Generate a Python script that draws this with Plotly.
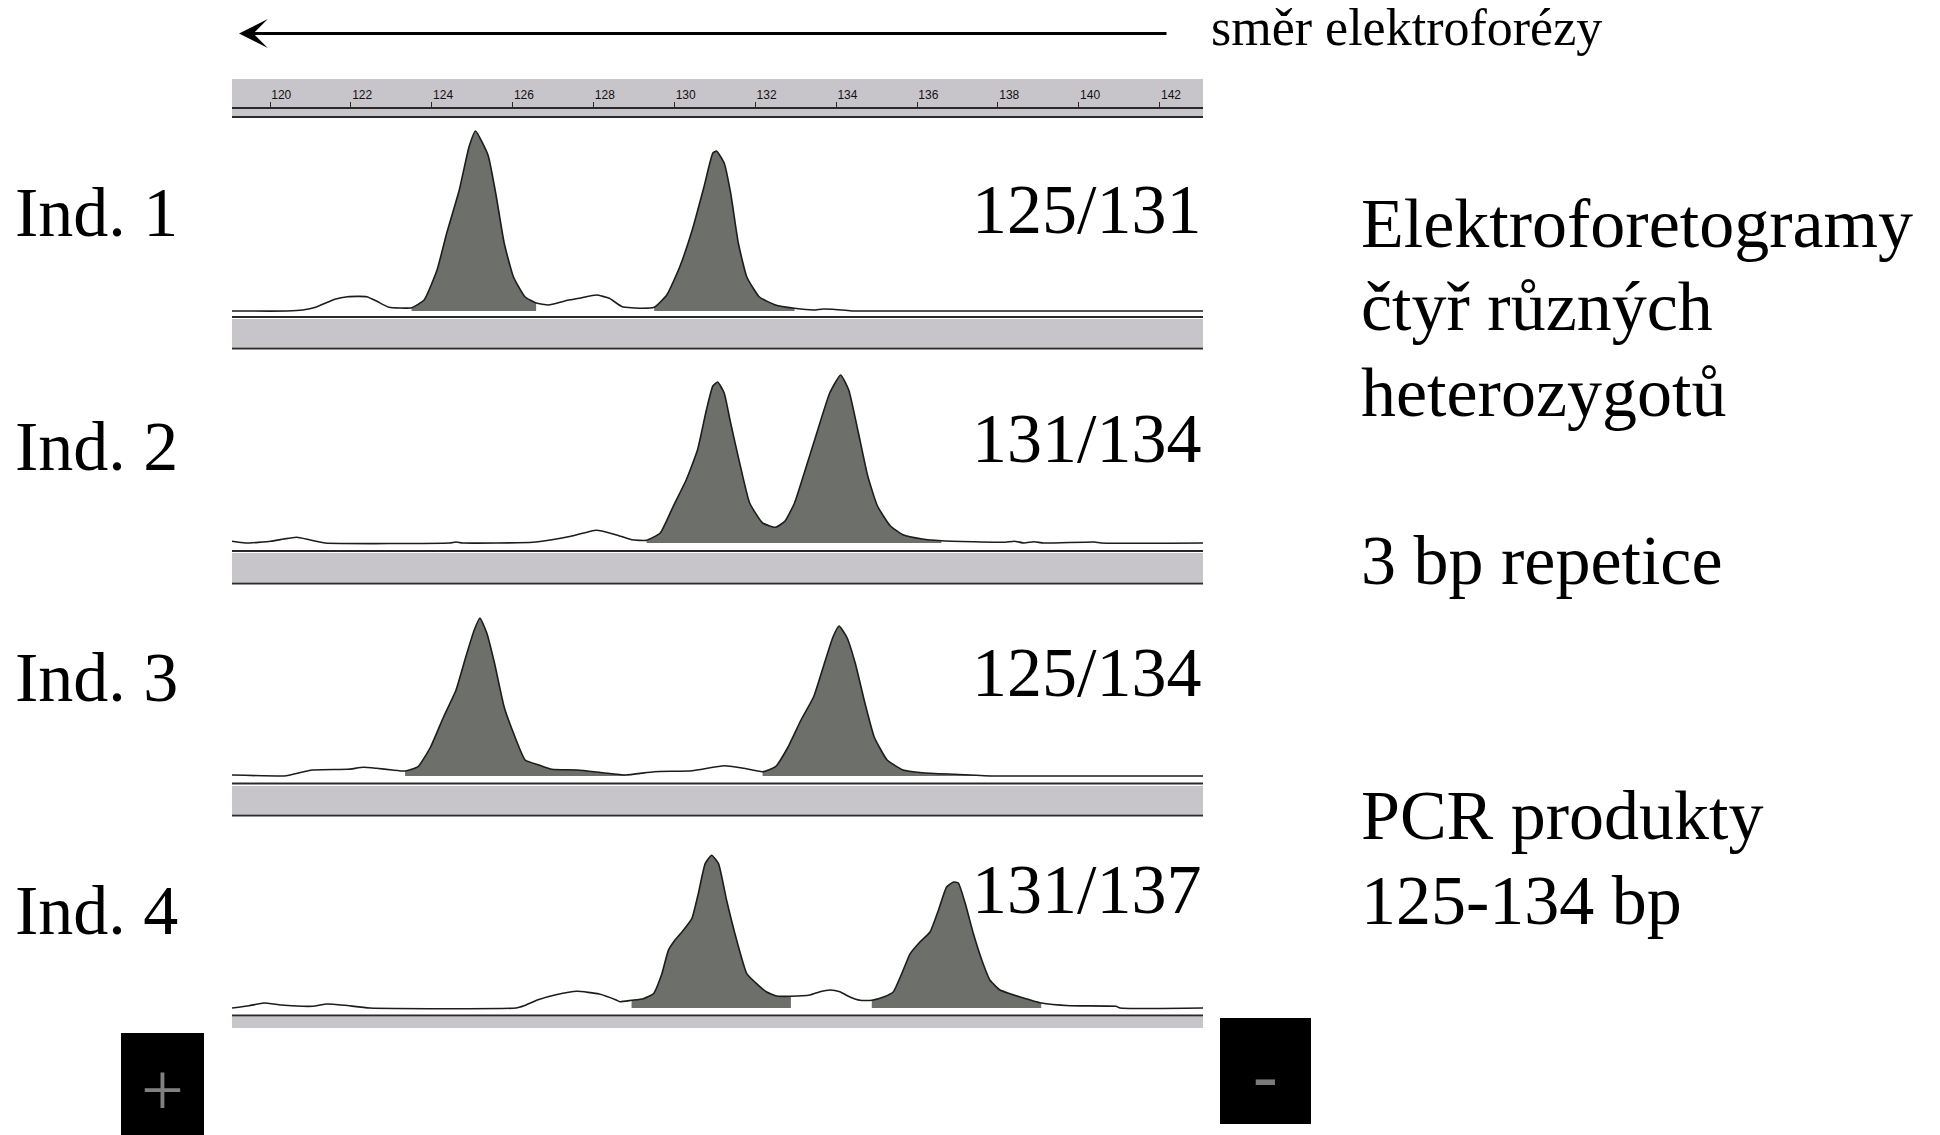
import plotly.graph_objects as go

W, H = 1940, 1135

# ---------------- data (size in bp, relative fluorescence) ----------------
ruler_ticks = [120, 122, 124, 126, 128, 130, 132, 134, 136, 138, 140, 142]

ind_labels = ["Ind. 1", "Ind. 2", "Ind. 3", "Ind. 4"]
allele_labels = ["125/131", "131/134", "125/134", "131/137"]

p1_bp = [119.06, 120.42, 120.81, 121.13, 121.60, 121.92, 122.39, 122.63, 122.94, 123.50,
         123.81, 124.13, 124.37, 124.68, 124.92, 125.08, 125.39, 125.58, 125.79, 126.02,
         126.31, 126.58, 126.89, 127.29, 127.68, 128.07, 128.39, 128.71, 129.18, 129.50,
         129.81, 130.13, 130.44, 130.73, 130.95, 131.04, 131.23, 131.39, 131.58, 131.79,
         132.10, 132.50, 132.97, 133.44, 133.68, 134.23, 134.39, 143.07]
p1_sig = [0, 0, 1, 3.7, 11.7, 14.3, 14.3, 10, 3.7, 3.3,
          11, 41, 78, 121, 164, 180, 156, 118, 68, 34,
          14, 8, 6, 10, 13, 16, 12.7, 4.3, 2.7, 3.7,
          16, 44, 81, 124, 158, 160, 148, 118, 68, 34,
          14, 6, 2.7, 1, 2, 0.7, 0, 0]
p1_fill = [(123.50, 126.58), (129.50, 132.97)]

p2_bp = [119.06, 119.39, 120.02, 120.34, 120.66, 120.97, 121.37, 124.44, 124.60, 124.76,
         126.50, 126.97, 127.44, 128.07, 128.55, 128.94, 129.31, 129.65, 129.97, 130.29,
         130.57, 130.79, 130.95, 131.07, 131.23, 131.39, 131.63, 131.86, 132.18, 132.50,
         132.73, 132.97, 133.21, 133.52, 133.84, 134.11, 134.31, 134.55, 134.78, 135.02,
         135.34, 135.65, 136.13, 136.60, 137.39, 138.18, 138.41, 138.65, 138.89, 139.13,
         140.39, 140.55, 143.07]
p2_sig = [1.7, 0, 1.7, 4, 5.7, 3.3, 0, 0, 1, 0,
          0.7, 3.3, 6.7, 12.7, 8.3, 3.3, 2.7, 10, 36.7, 63,
          93, 133, 157, 161, 150, 120, 77, 40, 20, 15.7,
          21.7, 40, 70, 110, 150, 168, 153, 110, 67, 37,
          17, 8.3, 4, 2.3, 1.3, 0.7, 1.7, 0, 1.3, 0,
          1, 0, 0]
p2_fill = [(129.31, 136.60)]

p3_bp = [119.06, 120.34, 120.50, 121.05, 121.92, 122.31, 122.63, 123.02, 123.34, 123.66,
         123.97, 124.29, 124.60, 124.84, 125.05, 125.19, 125.36, 125.55, 125.79, 126.02,
         126.31, 126.65, 126.97, 127.60, 128.23, 128.79, 129.50, 130.44, 131.23, 131.71,
         132.18, 132.50, 132.81, 133.13, 133.44, 133.68, 133.92, 134.07, 134.26, 134.47,
         134.71, 134.94, 135.26, 135.65, 136.13, 136.92, 137.86, 143.07]
p3_sig = [1, 0, 1, 6, 6.7, 8.7, 7.7, 6, 5, 9.3,
          29, 59, 86, 119, 146, 158, 143, 113, 69, 43,
          16, 11, 6.7, 6, 3.3, 1, 4.3, 5.3, 10.3, 7.7,
          4.3, 9.3, 29, 56, 79, 109, 139, 150, 139, 113,
          73, 39, 16, 6, 3.3, 1.7, 0, 0]
p3_fill = [(123.34, 128.79), (132.18, 137.86)]

p4_bp = [119.06, 119.48, 119.85, 120.27, 120.79, 121.06, 121.41, 121.85, 122.47, 126.08,
         126.28, 126.63, 127.07, 127.59, 128.14, 128.56, 128.65, 128.94, 129.23, 129.48,
         129.69, 129.85, 130.01, 130.22, 130.43, 130.59, 130.76, 130.92, 131.09, 131.29,
         131.54, 131.79, 132.03, 132.28, 132.53, 132.88, 133.35, 133.60, 133.85, 134.09,
         134.34, 134.59, 134.88, 135.17, 135.41, 135.62, 135.83, 136.07, 136.32, 136.53,
         136.73, 136.90, 137.02, 137.19, 137.39, 137.60, 137.80, 138.05, 138.30, 138.55,
         139.07, 139.78, 140.92, 141.02, 143.07]
p4_sig = [0, 2.3, 5, 3, 1.7, 1.7, 4, 2.7, 0, 0,
          2.3, 8.3, 13.3, 16.7, 14, 8, 6.3, 7.7, 9.3, 14.3,
          34.3, 57.7, 67.7, 77.7, 89.3, 114.3, 144.3, 152.7, 144.3, 107.7,
          67.7, 34.3, 24.3, 16, 12, 11.7, 13, 16.3, 18, 16.3,
          11, 7.7, 7.7, 11, 16, 34.3, 54.3, 66, 76, 98,
          121, 126, 125, 104.7, 74.7, 48, 28, 18, 14.3, 11,
          5, 2.3, 1.7, 0, 0]
p4_fill = [(128.94, 132.88), (134.88, 139.07)]

panels = [(p1_bp, p1_sig, p1_fill), (p2_bp, p2_sig, p2_fill),
          (p3_bp, p3_sig, p3_fill), (p4_bp, p4_sig, p4_fill)]

right_lines = ["Elektroforetogramy", "čtyř různých", "heterozygotů",
               "3 bp repetice", "PCR produkty", "125-134 bp"]
direction_label = "směr elektroforézy"

# ---------------- layout geometry (pixels) ----------------
X_LEFT, X_RIGHT = 232, 1203
BASELINES = [311, 543, 776, 1008]
PAD_BOTTOM, PAD_TOP = 5, 188
FONT_SERIF = "Liberation Serif"
TRACE_FILL = "#6d6f6b"
BAND = "#c8c5ca"
DARK = "#2a2a2a"
SMOOTH = 0.45


def px(x):
    return x / W


def py(y):
    return 1 - y / H


fig = go.Figure()
yaxes_names = ["y", "y2", "y3", "y4"]

for i, (bp, sig, fills) in enumerate(panels):
    ya = yaxes_names[i]
    for (a, b) in fills:
        sel = [(x, s) for x, s in zip(bp, sig) if a - 1e-9 <= x <= b + 1e-9]
        fig.add_trace(go.Scatter(
            x=[p[0] for p in sel], y=[p[1] for p in sel], xaxis="x", yaxis=ya,
            mode="lines", line=dict(width=0, color=TRACE_FILL, shape="spline", smoothing=SMOOTH),
            fill="tozeroy", fillcolor=TRACE_FILL, hoverinfo="skip", showlegend=False))
    fig.add_trace(go.Scatter(
        x=bp, y=sig, xaxis="x", yaxis=ya, mode="lines",
        line=dict(color="#1c1c1c", width=1.6, shape="spline", smoothing=SMOOTH),
        hoverinfo="skip", showlegend=False))

layout_axes = {}
layout_axes["xaxis"] = dict(
    domain=[px(X_LEFT), px(X_RIGHT)], range=[119.06, 143.07], anchor="free",
    position=py(108), side="top", showline=True, linecolor=DARK, linewidth=1.5,
    ticks="outside", ticklen=5, tickwidth=1, tickcolor=DARK,
    tickvals=ruler_ticks, ticktext=[str(t) for t in ruler_ticks],
    ticklabelposition="outside right", ticklabelstandoff=3,
    tickfont=dict(family="Liberation Sans", size=12, color="#111"),
    showgrid=False, zeroline=False, fixedrange=True)
for i, pb in enumerate(BASELINES):
    key = "yaxis" if i == 0 else f"yaxis{i+1}"
    layout_axes[key] = dict(
        domain=[py(pb + PAD_BOTTOM), py(pb - PAD_TOP)], range=[-PAD_BOTTOM, PAD_TOP],
        anchor="x", visible=False, fixedrange=True)

shapes = []


def rect(x0, y0, x1, y1, color):
    shapes.append(dict(type="rect", xref="paper", yref="paper", x0=px(x0), x1=px(x1),
                       y0=py(y0), y1=py(y1), fillcolor=color, line=dict(width=0), layer="below"))


def hline(y, color=DARK, width=2):
    shapes.append(dict(type="line", xref="paper", yref="paper", x0=px(X_LEFT), x1=px(X_RIGHT),
                       y0=py(y), y1=py(y), line=dict(color=color, width=width), layer="above"))


# ruler
rect(X_LEFT, 79, X_RIGHT, 117, BAND)
hline(117, DARK, 1.8)
# bands under each panel
bands = [(317, 319, 347, 348.5), (551, 553, 582, 583.5), (783.5, 786, 814, 815.5), (1015.5, 1017, 1028, None)]
for top_line, g0, g1, bot_line in bands:
    rect(X_LEFT, g0, X_RIGHT, g1, BAND)
    hline(top_line, DARK, 2)
    if bot_line is not None:
        hline(bot_line, DARK, 2)

# + / - electrode boxes
rect(121, 1033, 204, 1136, "#000000")
rect(1220, 1018, 1311, 1124, "#000000")

annotations = []


def text(s, x, baseline, size, xanchor="left", color="#000000"):
    annotations.append(dict(
        text=s, xref="paper", yref="paper", x=px(x), y=py(baseline - 0.3375 * size),
        xanchor=xanchor, yanchor="middle", showarrow=False,
        font=dict(family=FONT_SERIF, size=size, color=color)))


for lab, bl in zip(ind_labels, [236, 470, 701, 934]):
    text(lab, 13, bl, 70)
for lab, bl in zip(allele_labels, [233, 462, 696, 913]):
    text(lab, 1203, bl, 70, xanchor="right")
for lab, bl in zip(right_lines, [247, 330, 416, 584, 839, 924]):
    text(lab, 1359, bl, 70)
text(direction_label, 1209, 45, 52)
text("+", 162, 1115, 76, xanchor="center", color="#808080")
text("-", 1265, 1100, 74, xanchor="center", color="#7a7a7a")

# direction arrow
annotations.append(dict(
    text="", xref="paper", yref="paper", x=px(239), y=py(33.5),
    axref="pixel", ayref="pixel", ax=1168 - 239, ay=0,
    showarrow=True, arrowhead=3, arrowsize=1.6, arrowwidth=3, arrowcolor="#000000",
    standoff=0))

fig.update_layout(
    width=W, height=H, margin=dict(l=0, r=0, t=0, b=0),
    paper_bgcolor="white", plot_bgcolor="rgba(0,0,0,0)",
    shapes=shapes, annotations=annotations, showlegend=False, **layout_axes)

fig.write_html("out.html", config={"displayModeBar": False})
